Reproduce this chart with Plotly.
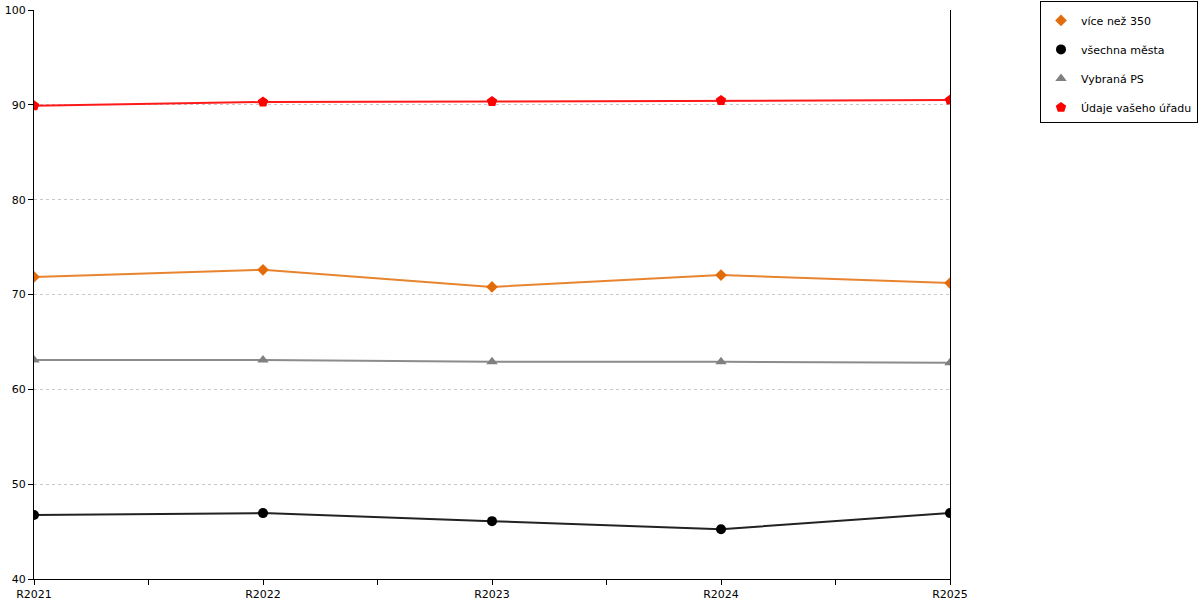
import plotly.graph_objects as go

# Values
years = ["R2021", "R2022", "R2023", "R2024", "R2025"]
vice_nez_350 = [71.85, 72.6, 70.8, 72.05, 71.2]
vsechna_mesta = [46.75, 46.95, 46.1, 45.25, 46.95]
vybrana_ps = [63.1, 63.1, 62.9, 62.9, 62.8]
udaje_uradu = [89.9, 90.3, 90.35, 90.45, 90.5]

series = [
    ("více než 350", vice_nez_350, "#E36C0A", "#E8842F", "diamond", 9),
    ("všechna města", vsechna_mesta, "#000000", "#222222", "circle", 10),
    ("Vybraná PS", vybrana_ps, "#808080", "#8C8C8C", "triangle-up", 10),
    ("Údaje vašeho úřadu", udaje_uradu, "#FF0000", "#FF1A1A", "pentagon", 11),
]

x = list(range(len(years)))

fig = go.Figure()

# lines first, without legend entries
for name, vals, mcol, lcol, sym, size in series:
    fig.add_trace(go.Scatter(
        x=x, y=vals, mode="lines",
        line=dict(color=lcol, width=2),
        showlegend=False, hoverinfo="skip",
    ))

# markers on top, these carry the legend
for i, (name, vals, mcol, lcol, sym, size) in enumerate(series):
    fig.add_trace(go.Scatter(
        x=x, y=vals, mode="markers", name=name,
        marker=dict(color=mcol, symbol=sym, size=size, line=dict(width=0)),
        legendgroup=f"g{i}",
    ))

# ticks every half category, labels only on the categories
tickvals = [i * 0.5 for i in range(2 * len(years) - 1)]
ticktext = [years[int(v)] if v == int(v) else "" for v in tickvals]

fig.update_layout(
    width=1200, height=600,
    margin=dict(l=34, r=250, t=10, b=21, autoexpand=False),
    paper_bgcolor="white", plot_bgcolor="white",
    font=dict(family="DejaVu Sans", size=11, color="#000000"),
    legend=dict(
        xref="container", yref="container",
        x=1040 / 1200, y=1 - 1 / 600, xanchor="left", yanchor="top",
        bordercolor="#000000", borderwidth=1,
        font=dict(size=11),
        title=dict(text=" ", font=dict(size=3)),
        traceorder="grouped", tracegroupgap=10,
    ),
)

fig.update_xaxes(
    range=[0, len(years) - 1],
    tickmode="array", tickvals=tickvals, ticktext=ticktext,
    ticks="outside", ticklen=5, tickcolor="#000000",
    showline=True, linecolor="#000000", linewidth=1,
    showgrid=False, zeroline=False,
)

fig.update_yaxes(
    range=[40, 100], dtick=10,
    ticks="outside", ticklen=5, tickcolor="#000000",
    showline=True, linecolor="#000000", linewidth=1, mirror=True,
    showgrid=True, gridcolor="#C8C8C8", griddash="dot", gridwidth=1,
    zeroline=False,
)

# drop the browser's default 8px body margin so the figure sits at 0,0
fig.write_html(
    "out.html",
    config={"displayModeBar": False},
    post_script="document.body.style.margin = '0';",
)
